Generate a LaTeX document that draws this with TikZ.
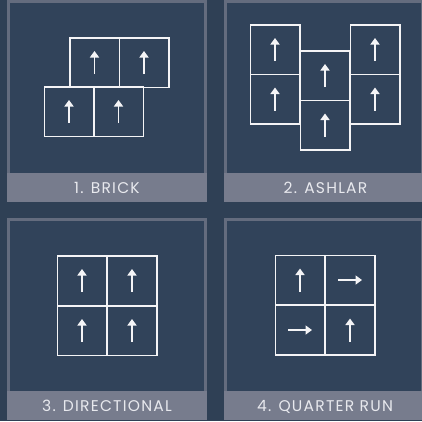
\documentclass[tikz,border=0pt]{standalone}
\usepackage{fontspec}
\newfontfamily\labfont[LetterSpace=8]{Poppins}
\usetikzlibrary{arrows.meta}
\definecolor{bgc}{HTML}{2F4055}
\definecolor{inc}{HTML}{31435A}
\definecolor{frc}{HTML}{646C7E}
\definecolor{bandc}{HTML}{777C8D}
\definecolor{txc}{HTML}{E8E9EE}
\definecolor{tilec}{HTML}{F4F4F6}
\tikzset{
  tile/.style={draw=tilec, line width=1.5pt, rectangle, minimum width=49.5pt, minimum height=49.5pt, inner sep=0pt, outer sep=0pt},
  arr/.style={draw=tilec, line width=1.6pt, -{Triangle[width=9pt,length=6.5pt]}},
  lab/.style={text=txc, font=\labfont\fontsize{15.5}{16}\selectfont, anchor=base, inner sep=0pt},
}
\newcommand{\upar}[1]{\draw[arr] ([yshift=-11.5pt]#1.center) -- ([yshift=11.5pt]#1.center);}
\newcommand{\rtar}[1]{\draw[arr] ([xshift=-12pt]#1.center) -- ([xshift=12pt]#1.center);}
\newcommand{\panel}[2]{%
  \fill[frc] (#1,#2) rectangle ++(200,202);
  \fill[inc] (#1+3,#2+3) rectangle ++(194,170);
  \fill[bandc] (#1,#2+173) rectangle ++(200,29);
}
\begin{document}
\begin{tikzpicture}[x=1pt,y=-1pt]
\useasboundingbox (0,0) rectangle (422,421);
\fill[bgc] (0,0) rectangle (422,421);
\panel{7}{0}
\panel{224}{0}
\panel{7}{218}
\panel{224}{218}
% panel 1: brick
\node[tile] (b1) at (94.5,62.5) {};
\node[tile] (b2) at (144,62.5) {};
\node[tile] (b3) at (69,111.5) {};
\node[tile] (b4) at (118.5,111.5) {};
\foreach \n in {b1,b2,b3,b4} {\upar{\n}}
% panel 2: ashlar
\node[tile] (a1) at (275,49.5) {};
\node[tile] (a2) at (275,99) {};
\node[tile] (a3) at (325,75.5) {};
\node[tile] (a4) at (325,125) {};
\node[tile] (a5) at (375,49.5) {};
\node[tile] (a6) at (375,99) {};
\foreach \n in {a1,a2,a3,a4,a5,a6} {\upar{\n}}
% panel 3: directional
\node[tile] (d1) at (82,280.5) {};
\node[tile] (d2) at (132,280.5) {};
\node[tile] (d3) at (82,330.5) {};
\node[tile] (d4) at (132,330.5) {};
\foreach \n in {d1,d2,d3,d4} {\upar{\n}}
% panel 4: quarter run
\node[tile] (q1) at (300,280) {};
\node[tile] (q2) at (350,280) {};
\node[tile] (q3) at (300,330) {};
\node[tile] (q4) at (350,330) {};
\upar{q1}
\rtar{q2}
\rtar{q3}
\upar{q4}
% labels
\node[lab] (l1) at (107,193.3) {1. BRICK};
\node[lab] (l2) at (325.5,193.3) {2. ASHLAR};
\node[lab] (l3) at (107,411.3) {3. DIRECTIONAL};
\node[lab] (l4) at (325,411.3) {4. QUARTER RUN};
\end{tikzpicture}
\end{document}
